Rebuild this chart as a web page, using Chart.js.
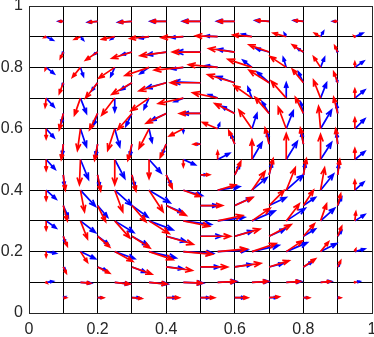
<!DOCTYPE html>
<html>
<head>
<meta charset="utf-8">
<script src="https://cdn.jsdelivr.net/npm/chart.js@4.4.0/dist/chart.umd.min.js"></script>
<style>
  html, body { margin: 0; padding: 0; background: #fff; }
</style>
</head>
<body>
<canvas id="quiverChart" width="374" height="337"></canvas>
<script>
// arrow tails on the vertical mesh edges
const xA = [0.1, 0.2, 0.3, 0.4, 0.5, 0.6, 0.7, 0.8, 0.9];
const yA = [0.95, 0.85, 0.75, 0.65, 0.55, 0.45, 0.35, 0.25, 0.15, 0.05];
// arrow tails on the horizontal mesh edges
const xB = [0.05, 0.15, 0.25, 0.35, 0.45, 0.55, 0.65, 0.75, 0.85, 0.95];
const yB = [0.9, 0.8, 0.7, 0.6, 0.5, 0.4, 0.3, 0.2, 0.1];

const tickLabels = ['0', '0.2', '0.4', '0.6', '0.8', '1'];

// red field, vertical edges (rows top to bottom)
const redUA = [
  [-4, -9, -13, -15, -17, -17, -13, -9, -4],
  [-3, -12, -20, -26, -28, -26, -20, -11, -3],
  [-4, -12, -20, -27, -30, -27, -20, -11, -4],
  [-4, -8, -14, -20, -21, -20, -14, -8, -4],
  [-2, -3, -4, -6, -7, -6, -4, -3, -2],
  [2, 3, 4, 6, 9, 6, 4, 3, 2],
  [4, 8, 14, 20, 22, 18, 15, 10, 3],
  [4, 12, 18, 27, 30, 25, 22, 11, 4],
  [3, 12, 20, 26, 27, 26, 20, 12, 3],
  [3, 6, 10, 13, 14, 13, 10, 6, 3]
];
const redVA = [
  [0, -1, -1, 0, 0, 0, 1, 1, 0],
  [-7, -9, -7, -4, 0, 4, 8, 8, 7],
  [-12, -17, -13, -9, 0, 9, 14, 15, 12],
  [-18, -18, -18, -11, 0, 11, 18, 18, 18],
  [-17, -18, -18, -15, 0, 15, 18, 18, 17],
  [-17, -18, -18, -15, 0, 15, 18, 18, 17],
  [-17, -18, -18, -11, 0, 9, 17, 17, 13],
  [-11, -12, -13, -9, 0, 8, 13, 14, 11],
  [-7, -7, -8, -4, 0, 4, 7, 9, 7],
  [0, 0, -1, 0, 0, 0, 1, 0, 0]
];
// blue field, vertical edges
const blueUA = [
  [-5, -10, -14, -16, -18, -18, -14, -10, -5],
  [-1, -4, -10, -19, -24, -17, -13, -6, -1],
  [-1, -6, -11, -20, -27, -18, -12, -5, -1],
  [-2, -4, -6, -15, -17, -13, -7, -3, -1],
  [-1, -2, -2, -4, -5, -4, -2, -2, -1],
  [1, 2, 3, 5, 6, 5, 3, 2, 1],
  [5, 10, 16, 17, 17, 17, 17, 12, 4],
  [2, 11, 16, 20, 21, 18, 16, 12, 4],
  [2, 9, 14, 17, 19, 17, 14, 9, 2],
  [2, 5, 8, 10, 9, 10, 8, 5, 2]
];
const blueVA = [
  [0, -1, -1, 0, 0, 0, 1, 1, 0],
  [-2, -3, -3, -3, 0, 3, 4, 4, 2],
  [-3, -9, -8, -6, 1, 7, 12, 12, 4],
  [-11, -13, -14, -8, 0, 8, 13, 13, 10],
  [-12, -13, -13, -11, 0, 11, 13, 13, 12],
  [-12, -13, -13, -11, 0, 11, 13, 13, 12],
  [-13, -13, -13, -8, 0, 9, 9, 9, 9],
  [-7, -9, -10, -6, 0, 6, 8, 8, 6],
  [-3, -4, -6, -2, 0, 3, 4, 6, 3],
  [1, 0, 0, 0, 0, 0, 0, 0, 0]
];

// red field, horizontal edges
const redUB = [
  [-2, -6, -13, -19, -22, -22, -19, -13, -6, -1],
  [-1, -8, -16, -24, -29, -29, -24, -16, -7, 0],
  [-1, -6, -13, -18, -25, -25, -18, -15, -7, 0],
  [0, -3, -7, -10, -14, -15, -13, -8, -2, 0],
  [0, -1, 0, 0, 0, 0, 0, 0, 0, 0],
  [0, 4, 8, 14, 17, 18, 13, 9, 4, 0],
  [0, 7, 15, 20, 26, 25, 18, 13, 6, 1],
  [0, 7, 18, 24, 29, 29, 24, 16, 8, 1],
  [1, 10, 15, 18, 19, 18, 16, 14, 10, 1]
];
const redVB = [
  [-1, -3, -3, -2, -1, 1, 2, 4, 4, 1],
  [-3, -11, -12, -9, -3, 3, 9, 12, 12, 6],
  [-10, -19, -19, -14, -6, 6, 14, 19, 20, 10],
  [-11, -24, -24, -22, -8, 7, 21, 24, 25, 12],
  [-12, -28, -28, -21, -8, 9, 22, 29, 28, 12],
  [-11, -24, -24, -24, -7, 6, 21, 25, 25, 11],
  [-10, -20, -19, -14, -6, 6, 14, 19, 19, 10],
  [-6, -12, -11, -9, -3, 3, 9, 12, 11, 3],
  [-1, -1, -2, -2, -1, 1, 1, 1, 1, 0]
];
// blue field, horizontal edges
const blueUB = [
  [7, 3, -4, -9, -12, -12, -10, -2, 3, 8],
  [8, 3, -4, -9, -11, -12, -9, -3, 4, 9],
  [8, 6, 0, -5, -9, -9, -4, 0, 6, 10],
  [8, 6, 5, 3, 0, 2, 5, 7, 11, 10],
  [9, 8, 10, 12, 12, 12, 10, 11, 11, 10],
  [10, 15, 17, 21, 19, 22, 15, 17, 13, 9],
  [10, 15, 19, 24, 28, 27, 23, 19, 14, 10],
  [10, 15, 20, 27, 30, 30, 27, 21, 16, 10],
  [7, 11, 15, 19, 20, 19, 17, 15, 11, 5]
];
const blueVB = [
  [-4, -4, -3, -2, -1, 1, 3, 4, 6, 4],
  [-7, -10, -10, -7, -2, 2, 8, 11, 11, 7],
  [-10, -17, -15, -12, -4, 4, 12, 17, 17, 9],
  [-10, -20, -20, -15, -4, 6, 17, 20, 21, 11],
  [-11, -22, -21, -15, -6, 7, 19, 20, 19, 9],
  [-10, -18, -17, -14, -6, 4, 14, 17, 18, 9],
  [-8, -13, -13, -10, -4, 4, 11, 14, 14, 7],
  [-2, -8, -8, -7, -2, 2, 7, 10, 9, 3],
  [1, -1, -2, -2, -1, 1, 1, 1, 1, 1]
];

// quiver scale: data units per unit of velocity
const ARROW_SCALE = 1 / 343;

function buildPoints(xs, ys, U, V) {
  const pts = [];
  ys.forEach((y, i) => xs.forEach((x, j) => {
    pts.push({ x: x, y: y, u: U[i][j], v: V[i][j] });
  }));
  return pts;
}

const bluePts = buildPoints(xA, yA, blueUA, blueVA).concat(buildPoints(xB, yB, blueUB, blueVB));
const redPts = buildPoints(xA, yA, redUA, redVA).concat(buildPoints(xB, yB, redUB, redVB));

const quiverArrows = {
  id: 'quiverArrows',
  afterDatasetsDraw(chart) {
    const { ctx } = chart;
    const xs = chart.scales.x, ys = chart.scales.y;
    ctx.save();
    ctx.lineWidth = 1.7;
    ctx.lineJoin = 'miter';
    chart.data.datasets.forEach(ds => {
      ctx.strokeStyle = ds.borderColor;
      ds.data.forEach(p => {
        const x0 = xs.getPixelForValue(p.x), y0 = ys.getPixelForValue(p.y);
        const x1 = xs.getPixelForValue(p.x + p.u * ARROW_SCALE);
        const y1 = ys.getPixelForValue(p.y + p.v * ARROW_SCALE);
        const dx = x1 - x0, dy = y1 - y0;
        const len = Math.hypot(dx, dy);
        if (len < 0.8) return;
        const ux = dx / len, uy = dy / len;
        const h = Math.min(7, 1.8 + 0.22 * len);
        const w = h * 0.38;
        ctx.beginPath();
        ctx.moveTo(x0, y0);
        ctx.lineTo(x1, y1);
        ctx.moveTo(x1 - ux * h - uy * w, y1 - uy * h + ux * w);
        ctx.lineTo(x1, y1);
        ctx.lineTo(x1 - ux * h + uy * w, y1 - uy * h - ux * w);
        ctx.stroke();
      });
    });
    ctx.restore();
  }
};

function pinScale(s) {
  s.paddingLeft = 0;
  s.paddingRight = 0;
  s.paddingTop = 0;
  s.paddingBottom = 0;
}

const tickFont = { family: "'Liberation Sans', Arial, sans-serif", size: 16 };
const gridColor = (c) => (c.tick && (c.tick.value === 0 || c.tick.value === 1)) ? '#262626' : '#000000';
const labelFor = (val) => {
  const k = Math.round(val * 10);
  return k % 2 === 0 ? tickLabels[k / 2] : '';
};

new Chart(document.getElementById('quiverChart'), {
  type: 'scatter',
  data: {
    datasets: [
      { label: 'blue', data: bluePts, borderColor: '#0000ff', backgroundColor: '#0000ff', pointRadius: 0, showLine: false },
      { label: 'red', data: redPts, borderColor: '#ff0000', backgroundColor: '#ff0000', pointRadius: 0, showLine: false }
    ]
  },
  options: {
    responsive: false,
    animation: false,
    layout: { padding: { top: 6, right: 2, left: 0, bottom: 0 } },
    plugins: {
      legend: { display: false },
      tooltip: { enabled: false }
    },
    scales: {
      x: {
        type: 'linear',
        min: 0,
        max: 1,
        afterFit: (s) => { s.height = 24; pinScale(s); },
        ticks: { stepSize: 0.1, autoSkip: false, maxRotation: 0, padding: 7, color: '#262626', font: tickFont, callback: labelFor },
        grid: { color: gridColor, lineWidth: 1, drawTicks: false },
        border: { display: true, color: '#262626', width: 1 }
      },
      y: {
        type: 'linear',
        min: 0,
        max: 1,
        afterFit: (s) => { s.width = 29; pinScale(s); },
        ticks: { stepSize: 0.1, autoSkip: false, padding: 6, color: '#262626', font: tickFont, callback: labelFor },
        grid: { color: gridColor, lineWidth: 1, drawTicks: false },
        border: { display: true, color: '#262626', width: 1 }
      }
    }
  },
  plugins: [quiverArrows]
});
</script>
</body>
</html>
